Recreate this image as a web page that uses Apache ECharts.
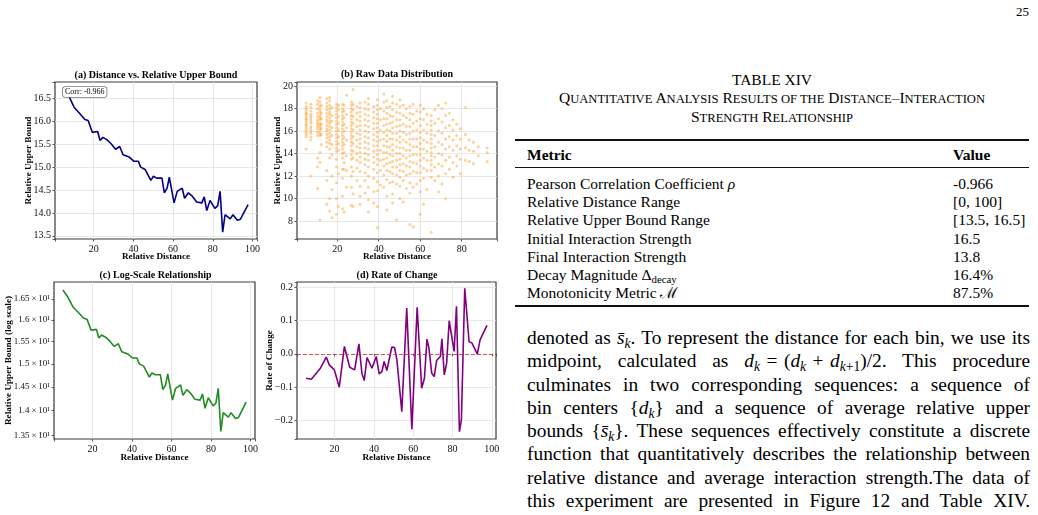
<!DOCTYPE html>
<html>
<head>
<meta charset="utf-8">
<script src="https://cdn.jsdelivr.net/npm/echarts@6/dist/echarts.min.js"></script>
<style>
body{margin:0;background:#fff}
#page{position:relative;width:1038px;height:515px;overflow:hidden;background:#fff;font-family:"Liberation Serif","Times New Roman",serif;color:#000}
#chart{position:absolute;left:0;top:0;width:510px;height:515px}
.abs{position:absolute;white-space:nowrap;font-family:"Liberation Serif",serif}
.rule{position:absolute;left:515px;width:514px;background:#111}
.row{position:absolute;font-family:"Liberation Serif",serif;font-size:15.5px;line-height:18.3px;white-space:nowrap}
.sc small{font-size:12.6px}
.body{position:absolute;left:527px;top:326.1px;width:503px;font-family:"Liberation Serif",serif;font-size:19.4px;line-height:23.25px}
.body div{text-align:justify;text-align-last:justify}
sub{font-size:0.7em;vertical-align:baseline;position:relative;top:0.3em;line-height:0}
</style>
</head>
<body>
<div id="page">
  <div id="chart"></div>
  <div class="abs" style="left:1016px;top:4px;font-size:13px">25</div>

  <div class="abs" style="left:515px;top:71px;width:514px;text-align:center;font-size:15.5px;line-height:17.5px">
    TABLE XIV<br>
    <span class="sc">Q<small>UANTITATIVE</small> A<small>NALYSIS</small> R<small>ESULTS OF THE</small> D<small>ISTANCE</small>–I<small>NTERACTION</small></span><br>
    <span class="sc">S<small>TRENGTH</small> R<small>ELATIONSHIP</small></span>
  </div>

  <div class="rule" style="top:139px;height:2px"></div>
  <div class="row" style="left:527px;top:146.1px;font-weight:bold">Metric</div>
  <div class="row" style="left:953px;top:146.1px;font-weight:bold">Value</div>
  <div class="rule" style="top:167px;height:1px"></div>
  <div id="rows"></div>
  <div class="rule" style="top:305px;height:2px"></div>

  <div class="body">
    <div>denoted as <i>s̄</i><sub><i>k</i></sub>. To represent the distance for each bin, we use its</div>
    <div>midpoint, calculated as <i>d</i><sub><i>k</i></sub>&#8196;=&#8196;(<i>d</i><sub><i>k</i></sub>&#8196;+&#8196;<i>d</i><sub><i>k</i>+1</sub>)/2. This procedure</div>
    <div>culminates in two corresponding sequences: a sequence of</div>
    <div>bin centers {<i>d</i><sub><i>k</i></sub>} and a sequence of average relative upper</div>
    <div>bounds {<i>s̄</i><sub><i>k</i></sub>}. These sequences effectively constitute a discrete</div>
    <div>function that quantitatively describes the relationship between</div>
    <div>relative distance and average interaction strength.The data of</div>
    <div>this experiment are presented in Figure 12 and Table XIV.</div>
  </div>
</div>
<script>
const FONT = '"Liberation Serif", "Times New Roman", serif';

// (a)/(c) binned curve
const distX = [5.0, 7.5, 10.1, 12.6, 15.6, 17.2, 19.3, 22.0, 23.2, 24.6, 26.6, 28.8, 31.0, 33.1, 34.8, 37.9,
  40.2, 42.5, 43.7, 45.9, 48.8, 50.1, 51.8, 54.4, 55.6, 57.0, 58.1, 60.5, 62.1, 64.6, 65.8, 67.7,
  69.4, 71.9, 74.5, 75.7, 77.0, 78.6, 81.1, 82.5, 83.7, 85.0, 86.2, 88.8, 90.2, 92.4, 93.9, 97.8];
const upperY = [16.72, 16.55, 16.31, 16.19, 16.04, 16.02, 15.76, 15.78, 15.58, 15.65, 15.60, 15.51, 15.39, 15.45, 15.27, 15.22,
  15.13, 15.13, 15.00, 14.95, 14.71, 14.80, 14.76, 14.76, 14.44, 14.54, 14.78, 14.22, 14.47, 14.54, 14.32, 14.44,
  14.38, 14.24, 14.22, 14.35, 14.05, 14.27, 14.10, 14.16, 14.47, 13.58, 13.96, 13.87, 13.96, 13.84, 13.86, 14.18];

// (d) rate of change
const rateX = [5.5, 8.2, 12.8, 15.8, 17.3, 19.9, 22.4, 25.0, 27.7, 30.2, 32.4, 33.9, 35.1, 36.5, 39.0, 41.2, 42.7,
  44.1, 45.2, 46.6, 49.1, 50.5, 51.7, 54.2, 56.7, 59.3, 62.0, 64.3, 65.7, 67.0, 68.0, 69.4, 70.7, 71.9,
  73.8, 74.6, 75.8, 77.0, 78.3, 80.8, 82.0, 83.5, 84.5, 86.2, 88.4, 89.9, 92.6, 94.0, 97.5];
const rateY = [-0.073, -0.076, -0.043, -0.010, -0.033, -0.048, -0.100, 0.022, -0.040, -0.048, 0.030, -0.058, -0.080,
  -0.011, -0.043, -0.008, -0.060, -0.053, -0.023, -0.050, 0.020, 0.019, -0.018, -0.173, 0.137, -0.226, 0.139,
  -0.103, -0.073, 0.044, 0.017, -0.058, -0.068, -0.020, -0.008, 0.045, -0.063, -0.028, 0.099, 0.007, 0.142,
  -0.233, -0.198, 0.196, 0.037, 0.032, -0.001, 0.042, 0.085];

// (b) raw points, one list of y per distance column
const rawColumnX = [5.0, 7.3, 10.5, 11.7, 12.3, 15.0, 16.4, 17.4, 19.6, 20.6, 22.5, 23.3, 24.5, 26.8, 27.6, 29.5,
  31.0, 33.4, 35.0, 37.6, 39.3, 40.8, 42.4, 43.9, 45.4, 46.7, 48.6, 50.2, 51.8, 53.3, 55.0, 56.6, 58.3,
  60.0, 61.6, 63.2, 65.3, 67.0, 68.8, 70.5, 72.2, 74.0, 75.8, 77.6, 79.3, 81.8, 83.6, 85.6, 88.0, 92.3];
const rawColumnY = [
  [18.5, 18.2, 18.0, 17.8, 17.6, 17.5, 17.3, 17.1, 17.0, 16.8, 16.6, 16.5, 16.3, 16.1, 15.9, 15.7, 15.5, 14.4],
  [18.4, 18.1, 17.8, 17.5, 17.3, 17.1, 16.9, 16.7, 16.4, 16.2, 16.0, 15.8, 15.5, 15.2, 12.0],
  [18.7, 18.4, 18.0, 17.6, 17.3, 17.0, 16.8, 16.6, 16.4, 16.2, 15.9, 15.6, 13.6, 12.8, 10.9],
  [19.0, 18.6, 18.2, 17.9, 17.7, 17.4, 17.2, 17.0, 16.7, 16.5, 16.3, 16.1, 15.8, 15.6, 14.1, 13.2, 8.1],
  [18.3, 17.6, 17.1, 16.6, 16.2, 15.7, 14.8],
  [18.9, 18.5, 18.2, 17.9, 17.6, 17.3, 17.0, 16.8, 16.5, 16.2, 16.0, 15.7, 15.4, 15.0, 14.6, 12.5, 11.6, 9.5],
  [19.0, 18.7, 18.3, 18.0, 17.7, 17.5, 17.2, 16.9, 16.7, 16.4, 16.1, 15.8, 15.5, 15.2, 14.9, 14.4, 13.6, 10.0, 8.9],
  [18.1, 17.4, 16.9, 16.3, 15.6, 14.8, 13.9, 12.0, 10.8, 8.3],
  [18.4, 18.1, 17.8, 17.5, 17.2, 16.9, 16.6, 16.3, 16.0, 15.7, 15.4, 15.1, 14.8, 14.5, 14.2, 13.5, 12.8, 11.4, 10.0, 8.6],
  [18.3, 17.9, 17.3, 16.7, 16.1, 15.5, 14.9, 14.3, 12.2, 9.3],
  [18.4, 18.0, 17.7, 17.4, 17.1, 16.8, 16.5, 16.2, 15.9, 15.6, 15.3, 15.0, 14.7, 14.4, 14.0, 13.6, 12.6, 11.8, 10.2, 9.1],
  [18.3, 17.8, 17.2, 16.6, 16.0, 15.4, 14.8, 14.1, 13.2, 12.6, 8.8],
  [19.2, 17.5, 16.3, 15.2, 13.8, 12.5, 11.0],
  [18.6, 18.3, 18.0, 17.7, 17.4, 17.1, 16.8, 16.5, 16.2, 15.9, 15.6, 15.3, 15.0, 14.7, 14.3, 13.9, 13.5, 12.8, 12.0, 11.0, 9.4],
  [19.7, 18.4, 17.9, 17.3, 16.7, 16.1, 15.5, 14.9, 14.2, 13.6, 12.4, 10.4, 9.3],
  [18.2, 17.6, 17.0, 16.4, 15.8, 15.2, 14.6, 14.0, 13.4, 12.7, 11.6],
  [18.5, 18.1, 17.7, 17.3, 16.9, 16.5, 16.1, 15.7, 15.3, 14.9, 14.5, 14.1, 13.7, 13.2, 12.4, 11.1, 10.2, 9.5],
  [18.6, 18.0, 17.5, 17.0, 16.5, 16.0, 15.5, 15.0, 14.5, 14.0, 13.5, 13.0, 12.3, 11.6, 10.5],
  [18.9, 18.4, 17.9, 17.4, 16.9, 16.4, 15.9, 15.4, 14.9, 14.4, 13.9, 13.4, 12.8, 12.0, 11.0, 9.9, 8.8],
  [18.2, 17.7, 17.2, 16.7, 16.2, 15.7, 15.2, 14.7, 14.2, 13.7, 13.2, 12.6, 11.8, 10.6, 9.6],
  [18.8, 18.3, 17.9, 17.5, 17.1, 16.7, 16.3, 15.9, 15.5, 15.1, 14.7, 14.3, 13.9, 13.5, 13.0, 12.3, 11.5, 10.7, 9.3, 7.4],
  [18.0, 17.0, 16.1, 15.2, 14.3, 13.4, 12.5, 11.2],
  [19.3, 18.6, 17.8, 17.1, 16.5, 15.9, 15.3, 14.7, 14.1, 13.5, 12.9, 12.1, 11.0],
  [18.7, 18.1, 17.6, 17.1, 16.6, 16.1, 15.6, 15.1, 14.6, 14.1, 13.6, 13.1, 12.5, 11.7, 10.2, 9.0],
  [18.2, 17.4, 16.7, 16.0, 15.3, 14.6, 13.9, 13.2, 12.4, 11.4],
  [19.1, 18.5, 17.9, 17.3, 16.8, 16.3, 15.8, 15.3, 14.8, 14.3, 13.8, 13.3, 12.8, 12.2, 11.5, 10.4, 9.6],
  [18.4, 17.7, 17.0, 16.4, 15.8, 15.2, 14.6, 14.0, 13.4, 12.8, 12.1, 11.3, 8.1],
  [18.8, 18.2, 17.6, 17.0, 16.5, 16.0, 15.5, 15.0, 14.5, 14.0, 13.5, 13.0, 12.5, 11.9, 11.1, 10.0],
  [18.3, 17.4, 16.6, 15.9, 15.2, 14.5, 13.8, 13.1, 12.4, 11.6, 9.7],
  [18.0, 17.2, 16.4, 15.7, 15.0, 14.3, 13.6, 12.9, 12.1, 10.9],
  [18.2, 17.6, 17.0, 16.4, 15.8, 15.3, 14.8, 14.3, 13.8, 13.3, 12.8, 12.2, 11.4, 10.5, 7.7],
  [18.4, 17.5, 16.7, 16.0, 15.3, 14.6, 13.9, 13.2, 12.4, 11.0, 7.5],
  [17.8, 16.9, 16.1, 15.3, 14.6, 13.9, 13.1, 12.3, 11.3],
  [18.3, 17.7, 17.1, 16.5, 15.9, 15.4, 14.9, 14.4, 13.9, 13.4, 12.9, 12.3, 11.6, 10.6, 8.6],
  [18.0, 17.0, 16.1, 15.2, 14.4, 13.6, 12.7, 11.8, 9.5],
  [17.5, 16.6, 15.8, 15.0, 14.2, 13.4, 12.5, 10.8],
  [17.4, 16.9, 16.5, 16.1, 15.7, 15.3, 14.9, 14.5, 14.1, 13.8, 13.4, 13.0, 12.5, 11.9, 7.0],
  [17.9, 16.7, 15.6, 14.6, 13.7, 12.8, 11.6],
  [18.3, 17.1, 16.0, 15.0, 14.0, 13.1, 12.0, 10.6],
  [18.0, 16.8, 15.8, 14.8, 13.9, 12.9, 11.3],
  [18.5, 17.4, 16.3, 15.3, 14.4, 13.4, 12.2, 10.0],
  [17.6, 16.5, 15.5, 14.6, 13.7, 12.6],
  [17.0, 16.1, 15.2, 14.3, 13.2, 11.9],
  [16.6, 15.6, 14.7, 13.8, 12.9],
  [16.2, 15.3, 14.4, 13.5, 12.2],
  [18.1, 15.7, 14.5, 13.4],
  [15.2, 14.3, 13.3],
  [15.0, 14.2, 13.1],
  [14.6, 13.8],
  [14.5, 14.1, 13.3]
];

const logTicks = [13.5, 14, 14.5, 15, 15.5, 16, 16.5];

const metricNames = ['Pearson Correlation Coefficient <i>ρ</i>', 'Relative Distance Range', 'Relative Upper Bound Range',
  'Initial Interaction Strength', 'Final Interaction Strength', 'Decay Magnitude Δ<sub>decay</sub>', 'Monotonicity Metric ℳ'];
const metricValues = ['-0.966', '[0, 100]', '[13.5, 16.5]', '16.5', '13.8', '16.4%', '87.5%'];

// table rows
const rowsEl = document.getElementById('rows');
metricNames.forEach((name, i) => {
  const top = 174.6 + 18.3 * i;
  rowsEl.insertAdjacentHTML('beforeend',
    '<div class="row" style="left:527px;top:' + top + 'px">' + name + '</div>' +
    '<div class="row" style="left:953px;top:' + top + 'px">' + metricValues[i] + '</div>');
});

const rawPoints = [];
rawColumnX.forEach((x, i) => rawColumnY[i].forEach(y => rawPoints.push([x, y])));
const curve = distX.map((x, i) => [x, upperY[i]]);
const rate = rateX.map((x, i) => [x, rateY[i]]);

const near = (v, step) => Math.abs(v / step - Math.round(v / step)) < 1e-6;
const tickFont = {fontFamily: FONT, fontSize: 10, color: '#111'};
const nameFont = {fontFamily: FONT, fontSize: 9.2, fontWeight: 'bold', color: '#000'};

function axis(gridIndex, name, nameGap, extra) {
  return Object.assign({
    type: 'value', gridIndex, name, nameLocation: 'middle', nameGap, nameMoveOverlap: false,
    nameTextStyle: nameFont,
    axisLine: {show: false},
    axisTick: {show: true, length: 2.5, lineStyle: {color: '#333', width: 0.8}},
    splitLine: {show: true, showMinLine: false, showMaxLine: false, lineStyle: {color: '#e3e3e3', width: 0.8}},
  }, extra);
}
const xLabel = {...tickFont, margin: 5, formatter: v => near(v, 20) ? String(Math.round(v)) : ''};

const chart = echarts.init(document.getElementById('chart'));
chart.setOption({
  animation: false,
  textStyle: {fontFamily: FONT},
  grid: [
    {left: 55, top: 82, width: 202, height: 157},
    {left: 297, top: 82, width: 200, height: 157},
    {left: 54, top: 282, width: 201, height: 157},
    {left: 297, top: 282, width: 199, height: 157},
  ].map(g => ({...g, show: true, borderColor: '#3a3a3a', borderWidth: 1.2, backgroundColor: 'rgba(0,0,0,0)',
    containLabel: false, outerBoundsMode: 'none'})),
  xAxis: [
    axis(0, 'Relative Distance', 13, {min: 0.5, max: 102.3, axisLabel: xLabel}),
    axis(1, 'Relative Distance', 13, {min: 0.6, max: 97, axisLabel: xLabel}),
    axis(2, 'Relative Distance', 14, {min: 0.5, max: 102.3, axisLabel: xLabel}),
    axis(3, 'Relative Distance', 14, {min: 0.9, max: 102.1, axisLabel: xLabel}),
  ],
  yAxis: [
    axis(0, 'Relative Upper Bound', 22, {min: 13.43, max: 16.86,
      axisLabel: {...tickFont, margin: 4, formatter: v => near(v, 0.5) ? v.toFixed(1) : ''}}),
    axis(1, 'Relative Upper Bound', 15, {min: 6.4, max: 20.37, splitNumber: 7,
      axisLabel: {...tickFont, margin: 4, formatter: v => near(v, 2) ? String(Math.round(v)) : ''}}),
    axis(2, 'Relative Upper Bound (log scale)', 41, {type: 'log', logBase: 10, min: 13.43, max: 16.92,
      axisLabel: {...tickFont, fontSize: 9, margin: 4, customValues: logTicks,
        formatter: v => (Math.round(v * 100) / 1000) + '\u2009×\u200910¹'},
      axisTick: {show: true, length: 2.5, customValues: logTicks, lineStyle: {color: '#333', width: 0.8}},
      splitLine: {show: false}}),
    axis(3, 'Rate of Change', 23, {min: -0.255, max: 0.215,
      axisLabel: {...tickFont, margin: 4, formatter: v => {
        if (!near(v, 0.1)) return '';
        const t = Math.abs(v).toFixed(1);
        return v < -1e-9 ? '−' + t : t;
      }}}),
  ],
  series: [
    {type: 'line', xAxisIndex: 0, yAxisIndex: 0, data: curve, showSymbol: false, symbol: 'none',
      lineStyle: {color: '#00008b', width: 1.6}, silent: true},
    {type: 'scatter', xAxisIndex: 1, yAxisIndex: 1, data: rawPoints, symbol: 'circle', symbolSize: 3,
      itemStyle: {color: 'rgba(255,140,0,0.5)'}, silent: true},
    {type: 'line', xAxisIndex: 2, yAxisIndex: 2, data: curve, showSymbol: false, symbol: 'none',
      lineStyle: {color: '#228b22', width: 1.6}, silent: true},
    {type: 'line', xAxisIndex: 3, yAxisIndex: 3, data: rate, showSymbol: false, symbol: 'none',
      lineStyle: {color: '#800080', width: 1.6}, silent: true,
      markLine: {silent: true, symbol: 'none', label: {show: false},
        lineStyle: {color: 'rgba(214,39,40,0.75)', type: [4, 2], width: 1},
        data: [{yAxis: 0}]}},
  ],
  graphic: [
    {type: 'text', x: 156, y: 75, z: 100, style: {text: '(a) Distance vs. Relative Upper Bound',
      font: 'bold 10px ' + FONT, fill: '#000', align: 'center', verticalAlign: 'middle'}},
    {type: 'text', x: 397, y: 74.5, z: 100, style: {text: '(b) Raw Data Distribution',
      font: 'bold 10px ' + FONT, fill: '#000', align: 'center', verticalAlign: 'middle'}},
    {type: 'text', x: 155.5, y: 275, z: 100, style: {text: '(c) Log-Scale Relationship',
      font: 'bold 10px ' + FONT, fill: '#000', align: 'center', verticalAlign: 'middle'}},
    {type: 'text', x: 397, y: 275, z: 100, style: {text: '(d) Rate of Change',
      font: 'bold 10px ' + FONT, fill: '#000', align: 'center', verticalAlign: 'middle'}},
    {type: 'text', x: 63, y: 87, z: 100, style: {text: 'Corr: -0.966', font: '8px ' + FONT, fill: '#000',
      backgroundColor: '#fff', borderColor: '#777', borderWidth: 0.8, borderRadius: 2.5,
      padding: [1, 2, 1, 2], align: 'left', verticalAlign: 'top'}},
  ],
});
</script>
</body>
</html>
